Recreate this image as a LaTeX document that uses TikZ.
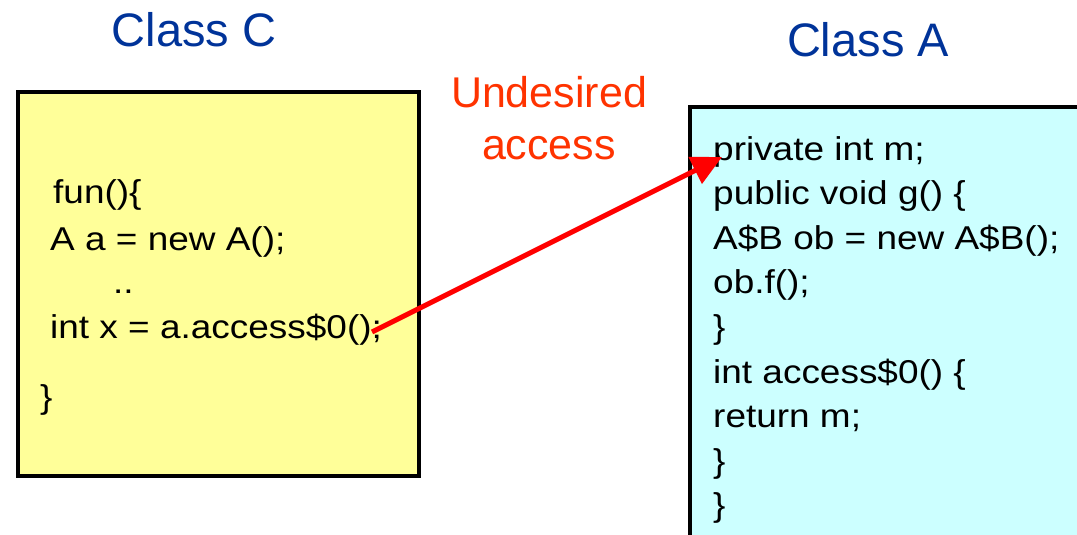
\documentclass[tikz,border=0pt]{standalone}
\usepackage{fontspec}
\setmainfont{Liberation Sans}
\newfontfamily\codefont[FakeStretch=1.12]{Liberation Sans}
\usepackage{tikz}
\usetikzlibrary{arrows.meta}
\definecolor{titleblue}{RGB}{0,51,153}
\definecolor{warnred}{RGB}{255,51,0}
\definecolor{boxyellow}{RGB}{255,255,153}
\definecolor{boxcyan}{RGB}{204,255,255}
\tikzstyle{code} = [anchor=base west, inner sep=0pt,
    font=\codefont\fontsize{33}{40}\selectfont]
\tikzstyle{title} = [inner sep=0pt, text=titleblue,
    font=\fontsize{47}{56}\selectfont]
\tikzset{>={Triangle[length=30pt,width=29pt]}}

\begin{document}
\begin{tikzpicture}[x=1pt,y=-1pt]
    \useasboundingbox (0,0) rectangle (1077,535);
    \clip (0,0) rectangle (1077,535);
    %boxes
    \draw[line width=3.5pt, fill=boxyellow] (18,92) rectangle (419,476);
    \draw[line width=3.5pt, fill=boxcyan] (690,107) rectangle (1095,560);
    %titles
    \node[title] (classC) at (194,30) {Class C};
    \node[title] (classA) at (868,40) {Class A};
    \node[inner sep=0pt, text=warnred, align=center,
          font=\fontsize{43}{52}\selectfont] (undesired) at (549,118)
          {Undesired\\access};
    %class C code
    \node[code] (c1) at (53,203) {fun()\{};
    \node[code] (c2) at (50,250) {A a = new A();};
    \node[code] (c3) at (113,293) {..};
    \node[code] (c4) at (50,338) {int x = a.access\$0();};
    \node[code] (c5) at (40,408) {\}};
    %class A code
    \node[code] (a1) at (713,160) {private int m;};
    \node[code] (a2) at (713,204.6) {public void g() \{};
    \node[code] (a3) at (713,249.2) {A\$B ob = new A\$B();};
    \node[code] (a4) at (713,293.8) {ob.f();};
    \node[code] (a5) at (713,338.4) {\}};
    \node[code] (a6) at (713,383) {int access\$0() \{};
    \node[code] (a7) at (713,427.6) {return m;};
    \node[code] (a8) at (713,472.2) {\}};
    \node[code] (a9) at (713,516.8) {\}};
    %access arrow
    \coordinate (call) at (372,332);
    \coordinate (field) at (722,157);
    \draw[->, red, line width=5pt] (call) -- (field);
\end{tikzpicture}
\end{document}
